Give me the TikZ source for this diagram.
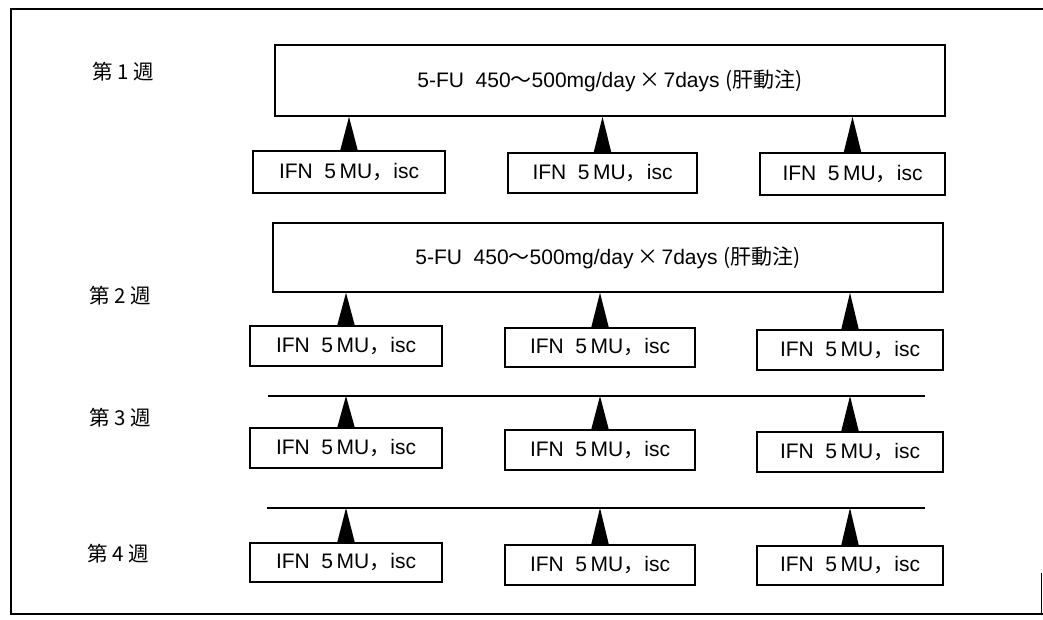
\documentclass[tikz,border=0pt]{standalone}
\usepackage{fontspec}
\setmainfont{Liberation Sans}
\newfontfamily\jp{Noto Sans CJK JP}
\begin{document}
\begin{tikzpicture}[x=1pt,y=-1pt,
  bigbox/.style={draw,line width=1.6pt,minimum width=670pt,inner sep=0pt,font=\fontsize{21}{25}\selectfont},
  ibox/.style={draw,line width=1.6pt,inner sep=0pt,font=\fontsize{21}{25}\selectfont},
  wk/.style={font=\jp\fontsize{20.5}{24}\selectfont,inner sep=0pt},
  tri/.style={fill=black}]
\useasboundingbox (0,0) rectangle (1043,620);
% frame
\draw[line width=1.5pt] (1043,9) -- (11,9) -- (11,614) -- (1043,614);
\draw[line width=1pt] (1041,573) -- (1041,614);
\newcommand{\ifntext}{IFN\ \ 5\,MU{\jp ，}isc}
\newcommand{\futext}{5-FU\ \ 450{\jp 〜}500mg/day\,{\jp ×}\,7days\ {\jp (肝動注)}}
% week labels
\node[wk] (w1) at (123,72) {第\ 1\ 週};
\node[wk] (w2) at (120,296) {第\ 2\ 週};
\node[wk] (w3) at (120,418) {第\ 3\ 週};
\node[wk] (w4) at (118,554) {第\ 4\ 週};
% big boxes
\node[bigbox,minimum height=71pt] (f1) at (610,80.5) {\futext};
\node[bigbox,minimum height=69pt] (f2) at (608,257.5) {\futext};
% lines for week 3, 4
\coordinate (l3a) at (268,396);
\coordinate (l3b) at (925,396);
\coordinate (l4a) at (267,508);
\coordinate (l4b) at (925,508);
\draw[line width=1.6pt] (l3a) -- (l3b);
\draw[line width=1.6pt] (l4a) -- (l4b);
% small boxes week 1
\node[ibox,minimum width=192pt,minimum height=42pt] (a1) at (349,172) {\ifntext};
\node[ibox,minimum width=189pt,minimum height=40pt] (a2) at (602.5,173) {\ifntext};
\node[ibox,minimum width=185pt,minimum height=42pt] (a3) at (852.5,174) {\ifntext};
% week 2
\node[ibox,minimum width=192pt,minimum height=40pt] (b1) at (346,346) {\ifntext};
\node[ibox,minimum width=190pt,minimum height=39pt] (b2) at (600,347.5) {\ifntext};
\node[ibox,minimum width=186pt,minimum height=40pt] (b3) at (850,350) {\ifntext};
% week 3
\node[ibox,minimum width=192pt,minimum height=40pt] (c1) at (346,448) {\ifntext};
\node[ibox,minimum width=190pt,minimum height=40pt] (c2) at (600,450) {\ifntext};
\node[ibox,minimum width=186pt,minimum height=40pt] (c3) at (850,452) {\ifntext};
% week 4
\node[ibox,minimum width=192pt,minimum height=39pt] (d1) at (346,562.5) {\ifntext};
\node[ibox,minimum width=190pt,minimum height=40pt] (d2) at (600,565) {\ifntext};
\node[ibox,minimum width=186pt,minimum height=39pt] (d3) at (850,565.5) {\ifntext};
% triangles
\foreach \b in {a1,a2,a3}
  \fill[tri] (\b.north |- f1.south) -- ([xshift=-9pt,yshift=-1pt]\b.north) -- ([xshift=9pt,yshift=-1pt]\b.north) -- cycle;
\foreach \b in {b1,b2,b3}
  \fill[tri] (\b.north |- f2.south) -- ([xshift=-9pt,yshift=-1pt]\b.north) -- ([xshift=9pt,yshift=-1pt]\b.north) -- cycle;
\foreach \b in {c1,c2,c3}
  \fill[tri] (\b.north |- l3a) -- ([xshift=-9pt,yshift=-1pt]\b.north) -- ([xshift=9pt,yshift=-1pt]\b.north) -- cycle;
\foreach \b in {d1,d2,d3}
  \fill[tri] (\b.north |- l4a) -- ([xshift=-9pt,yshift=-1pt]\b.north) -- ([xshift=9pt,yshift=-1pt]\b.north) -- cycle;
\end{tikzpicture}
\end{document}
